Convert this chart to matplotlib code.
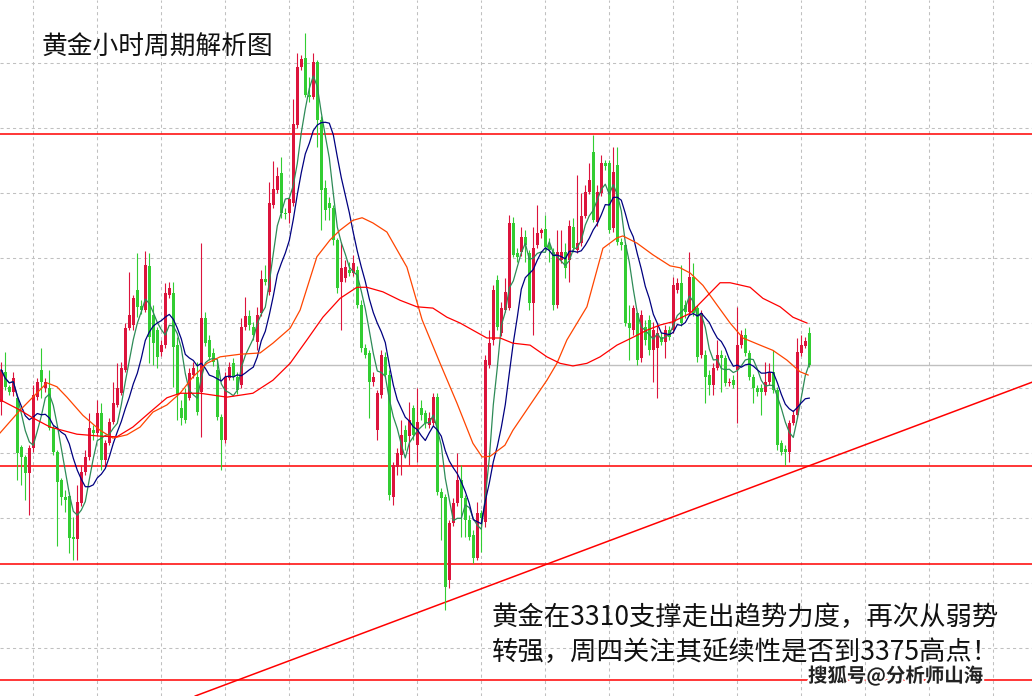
import matplotlib
matplotlib.use("Agg")
import matplotlib.pyplot as plt
import matplotlib.patheffects as pe
import numpy as np
import pandas as pd

plt.rcParams['font.family'] = ['Noto Sans CJK SC', 'DejaVu Sans']

# hourly OHLC (bar index 0..202)
opens = [
    3337.8, 3342.5, 3340.2, 3339.4, 3338.5, 3330.9, 3329.4, 3326.9, 3330.8, 3338.6,
    3342.8, 3340.0, 3340.0, 3333.8, 3330.2, 3325.8, 3323.2, 3323.4, 3317.1, 3316.8,
    3322.3, 3327.1, 3329.4, 3333.5, 3333.1, 3336.2, 3328.9, 3331.5, 3334.8, 3337.4,
    3339.2, 3342.8, 3349.2, 3349.7, 3355.1, 3352.6, 3352.0, 3358.8, 3351.2, 3348.9,
    3345.5, 3346.6, 3354.3, 3354.6, 3346.6, 3336.9, 3339.2, 3338.5, 3342.0, 3341.7,
    3339.4, 3350.8, 3347.4, 3345.4, 3342.8, 3335.5, 3332.0, 3341.5, 3343.8, 3341.7,
    3340.5, 3349.4, 3351.1, 3349.4, 3347.1, 3351.5, 3356.8, 3354.8, 3368.2, 3370.5,
    3373.1, 3366.9, 3366.9, 3368.5, 3380.5, 3389.4, 3390.8, 3385.1, 3384.8, 3390.2,
    3381.2, 3370.8, 3368.5, 3367.7, 3362.8, 3356.3, 3356.9, 3358.2, 3357.7, 3358.2,
    3352.8, 3346.2, 3345.4, 3340.9, 3333.5, 3338.9, 3344.8, 3342.0, 3323.2, 3327.8,
    3329.7, 3333.5, 3332.6, 3336.9, 3331.2, 3336.9, 3336.2, 3334.3, 3334.6, 3338.6,
    3324.0, 3323.2, 3310.5, 3319.2, 3322.3, 3325.8, 3323.1, 3319.7, 3317.4, 3313.8,
    3320.8, 3319.4, 3343.5, 3347.4, 3356.6, 3348.5, 3352.0, 3352.3, 3365.4, 3360.8,
    3360.9, 3363.2, 3360.8, 3353.1, 3362.0, 3363.8, 3364.5, 3362.0, 3360.9, 3352.8,
    3359.7, 3360.9, 3359.7, 3364.8, 3361.2, 3362.3, 3366.5, 3370.2, 3376.3, 3365.5,
    3370.0, 3374.6, 3374.6, 3364.6, 3374.3, 3362.5, 3362.0, 3350.0, 3348.9, 3351.5,
    3344.6, 3349.4, 3350.5, 3345.8, 3346.2, 3347.8, 3347.1, 3348.9, 3348.9, 3355.1,
    3356.2, 3352.8, 3351.7, 3357.1, 3352.3, 3345.1, 3345.1, 3342.0, 3340.5, 3343.1,
    3345.1, 3344.6, 3340.8, 3341.2, 3342.8, 3346.6, 3348.2, 3345.4, 3341.7, 3340.0,
    3340.0, 3339.4, 3340.9, 3342.5, 3339.7, 3331.5, 3330.6, 3330.2, 3334.6, 3335.8,
    3345.4, 3346.5, 3348.5,
]
highs = [
    3344.0, 3345.5, 3340.5, 3342.5, 3338.9, 3331.2, 3329.7, 3331.2, 3340.5, 3341.5,
    3346.2, 3341.5, 3342.8, 3334.3, 3330.5, 3326.2, 3324.3, 3324.0, 3320.2, 3325.1,
    3328.2, 3330.5, 3336.2, 3334.3, 3338.2, 3337.7, 3332.0, 3335.4, 3340.9, 3343.8,
    3344.0, 3350.0, 3357.8, 3354.3, 3360.8, 3353.5, 3361.1, 3360.8, 3352.8, 3349.4,
    3347.4, 3356.2, 3356.3, 3356.3, 3347.8, 3338.2, 3340.0, 3343.1, 3344.0, 3344.0,
    3362.3, 3351.7, 3348.2, 3346.2, 3344.3, 3336.0, 3342.5, 3344.0, 3344.6, 3342.5,
    3350.8, 3354.0, 3352.0, 3350.2, 3352.5, 3358.2, 3358.9, 3371.7, 3374.9, 3374.0,
    3375.5, 3367.7, 3369.4, 3384.5, 3391.5, 3391.2, 3394.6, 3387.8, 3391.5, 3390.5,
    3381.8, 3372.0, 3369.4, 3368.2, 3363.1, 3362.5, 3359.7, 3359.4, 3360.5, 3358.8,
    3353.5, 3346.8, 3345.8, 3342.5, 3339.7, 3345.8, 3345.5, 3342.8, 3328.6, 3330.8,
    3335.1, 3334.3, 3337.8, 3337.4, 3340.0, 3338.2, 3336.6, 3336.3, 3339.2, 3339.2,
    3324.6, 3323.7, 3319.7, 3323.1, 3330.0, 3328.2, 3323.5, 3320.5, 3318.2, 3322.5,
    3321.2, 3345.1, 3348.9, 3355.8, 3357.4, 3353.2, 3356.9, 3366.6, 3366.3, 3361.5,
    3364.8, 3364.3, 3361.2, 3364.8, 3368.2, 3364.6, 3366.6, 3363.1, 3361.5, 3364.3,
    3364.3, 3362.3, 3365.8, 3366.2, 3372.8, 3370.0, 3371.2, 3374.6, 3378.9, 3371.2,
    3375.8, 3375.1, 3375.1, 3377.1, 3377.1, 3363.1, 3362.5, 3352.8, 3352.8, 3351.7,
    3352.0, 3350.5, 3351.2, 3350.2, 3349.7, 3348.6, 3349.7, 3349.5, 3357.1, 3356.9,
    3358.9, 3353.5, 3360.9, 3359.2, 3352.8, 3352.0, 3345.8, 3342.8, 3343.8, 3347.4,
    3345.8, 3345.1, 3341.5, 3342.0, 3352.5, 3348.9, 3349.2, 3345.8, 3342.2, 3340.5,
    3340.6, 3344.0, 3343.8, 3345.8, 3340.2, 3332.0, 3331.2, 3335.1, 3336.6, 3347.7,
    3348.2, 3347.8, 3349.4,
]
lows = [
    3335.8, 3339.7, 3338.9, 3338.8, 3325.8, 3325.1, 3322.8, 3320.5, 3330.2, 3338.2,
    3338.5, 3339.4, 3333.5, 3329.7, 3315.7, 3322.0, 3320.9, 3314.6, 3313.5, 3313.5,
    3321.8, 3326.6, 3328.9, 3332.0, 3332.6, 3327.4, 3328.0, 3331.2, 3334.5, 3337.1,
    3338.9, 3342.5, 3348.9, 3348.9, 3350.9, 3351.4, 3351.7, 3343.8, 3343.5, 3343.1,
    3344.9, 3346.2, 3353.8, 3340.2, 3335.1, 3334.3, 3334.6, 3338.2, 3341.5, 3335.8,
    3332.5, 3346.5, 3344.3, 3343.4, 3335.1, 3327.4, 3331.5, 3341.2, 3341.2, 3339.1,
    3340.0, 3348.9, 3348.9, 3347.4, 3345.8, 3351.1, 3355.8, 3354.3, 3367.7, 3370.0,
    3366.2, 3366.0, 3365.4, 3368.0, 3380.0, 3388.9, 3384.8, 3384.0, 3384.5, 3377.1,
    3364.3, 3365.8, 3365.8, 3362.0, 3354.6, 3348.9, 3356.3, 3357.2, 3357.2, 3352.3,
    3345.5, 3344.6, 3335.4, 3340.3, 3332.0, 3338.5, 3341.5, 3322.8, 3322.0, 3326.6,
    3326.6, 3330.5, 3328.2, 3332.0, 3328.6, 3335.1, 3333.8, 3333.8, 3334.2, 3323.5,
    3316.6, 3305.8, 3309.2, 3318.8, 3321.8, 3317.1, 3317.1, 3316.6, 3313.1, 3313.5,
    3314.8, 3318.6, 3343.1, 3346.6, 3348.9, 3348.0, 3351.7, 3352.0, 3360.2, 3359.4,
    3360.3, 3359.4, 3352.0, 3348.2, 3361.5, 3363.1, 3361.2, 3359.4, 3352.0, 3352.3,
    3359.2, 3356.9, 3356.3, 3360.9, 3360.8, 3361.8, 3366.2, 3369.8, 3365.5, 3364.9,
    3369.5, 3373.5, 3363.8, 3364.0, 3362.0, 3361.2, 3349.5, 3344.3, 3348.2, 3343.5,
    3344.0, 3346.6, 3345.1, 3340.9, 3338.5, 3346.6, 3344.6, 3347.4, 3348.5, 3354.6,
    3349.5, 3350.8, 3351.2, 3351.1, 3344.0, 3344.6, 3337.7, 3338.9, 3338.9, 3342.8,
    3339.4, 3340.3, 3340.3, 3340.0, 3334.6, 3346.2, 3344.9, 3341.2, 3337.7, 3338.8,
    3335.8, 3338.9, 3340.5, 3339.2, 3330.5, 3329.7, 3328.2, 3328.6, 3334.3, 3335.4,
    3344.9, 3346.2, 3343.2,
]
closes = [
    3342.8, 3340.2, 3339.4, 3341.5, 3330.0, 3329.4, 3326.9, 3330.8, 3338.9, 3340.9,
    3340.9, 3340.9, 3333.8, 3330.2, 3325.5, 3323.2, 3322.8, 3316.9, 3316.8, 3322.5,
    3327.1, 3329.4, 3333.8, 3333.1, 3336.2, 3328.9, 3331.5, 3334.8, 3337.7, 3340.0,
    3343.1, 3349.2, 3351.2, 3353.8, 3352.5, 3352.0, 3358.9, 3347.8, 3346.9, 3344.8,
    3346.6, 3354.6, 3355.4, 3346.3, 3338.9, 3335.4, 3335.1, 3342.3, 3343.1, 3336.3,
    3350.8, 3346.9, 3344.8, 3344.0, 3335.5, 3332.0, 3341.7, 3343.2, 3341.7, 3339.7,
    3349.4, 3351.1, 3349.7, 3348.2, 3351.2, 3356.8, 3356.3, 3368.5, 3370.6, 3372.6,
    3366.9, 3366.8, 3369.1, 3380.6, 3389.4, 3390.6, 3385.1, 3384.8, 3390.2, 3381.2,
    3370.5, 3367.4, 3367.7, 3362.8, 3355.4, 3358.5, 3358.6, 3357.7, 3359.2, 3352.8,
    3346.2, 3345.1, 3340.9, 3341.7, 3339.2, 3345.1, 3342.0, 3323.5, 3328.2, 3330.0,
    3332.8, 3331.7, 3335.1, 3332.8, 3334.8, 3335.8, 3334.6, 3335.4, 3338.6, 3324.0,
    3323.1, 3309.4, 3319.2, 3322.3, 3325.8, 3323.1, 3319.7, 3317.1, 3313.8, 3320.8,
    3320.0, 3344.3, 3346.9, 3355.1, 3349.4, 3352.3, 3354.8, 3365.4, 3360.5, 3360.2,
    3363.2, 3362.0, 3353.1, 3361.5, 3363.8, 3364.3, 3361.7, 3361.2, 3352.8, 3360.9,
    3360.9, 3358.5, 3364.9, 3361.5, 3362.3, 3366.5, 3370.2, 3372.0, 3365.8, 3370.2,
    3374.6, 3374.2, 3364.3, 3373.2, 3362.5, 3362.0, 3350.0, 3349.2, 3352.3, 3344.3,
    3351.2, 3347.4, 3345.8, 3348.9, 3348.5, 3347.1, 3348.9, 3347.8, 3355.8, 3356.2,
    3350.0, 3351.7, 3357.1, 3351.5, 3344.8, 3351.5, 3341.7, 3340.5, 3343.1, 3345.1,
    3344.6, 3340.8, 3340.9, 3340.5, 3346.6, 3348.2, 3345.4, 3341.7, 3340.0, 3339.4,
    3339.4, 3340.9, 3342.5, 3339.7, 3331.2, 3330.2, 3330.2, 3334.6, 3335.8, 3345.5,
    3346.6, 3347.2, 3343.5,
]

# slow moving averages, read at sample bars
ma_orange_bar = [
    -0.3, 4.7, 7.9, 11.4, 13.9, 16.4, 20.4, 24.7, 27.9, 31.4, 34.7, 37.9, 41.4, 44.7,
    47.9, 51.4, 54.7, 59.7, 64.7, 67.9, 72.2, 74.7, 78.9, 82.2, 84.7, 87.9, 90.2, 92.9,
    96.4, 101.4, 105.2, 109.7, 113.9, 117.9, 120.2, 122.2, 125.9, 127.9, 132.2, 136.4,
    138.9, 141.4, 146.4, 150.4, 153.9, 155.4, 158.9, 162.9, 167.2, 169.7, 172.2, 175.4,
    178.9, 182.2, 185.4, 189.7, 192.9, 196.4, 199.7, 201.7,
]
ma_orange = [
    3333.1, 3336.6, 3338.6, 3340.8, 3340.2, 3338.6, 3335.8, 3333.5, 3332.3, 3332.8,
    3334.0, 3336.3, 3337.4, 3339.2, 3341.7, 3343.8, 3344.8, 3345.2, 3345.4, 3346.9,
    3349.2, 3352.0, 3360.2, 3362.8, 3364.3, 3365.8, 3366.2, 3365.4, 3364.0, 3358.6,
    3350.5, 3343.8, 3337.7, 3331.5, 3329.4, 3329.5, 3331.2, 3333.5, 3337.4, 3341.2,
    3343.8, 3347.4, 3352.5, 3361.5, 3363.1, 3363.4, 3362.3, 3360.5, 3358.8, 3358.5,
    3357.7, 3355.8, 3352.8, 3350.0, 3347.7, 3346.6, 3345.8, 3344.3, 3342.5, 3342.0,
]
ma_red_bar = [
    -0.3, 4.7, 7.9, 12.2, 18.9, 24.7, 28.9, 32.9, 37.2, 41.4, 44.7, 49.7, 56.4, 59.7,
    62.9, 67.9, 72.2, 76.4, 80.4, 84.7, 88.9, 91.4, 95.4, 99.7, 103.9, 107.9, 111.4,
    114.7, 117.9, 121.4, 124.7, 127.9, 132.2, 136.4, 139.7, 142.9, 146.4, 149.7, 153.9,
    157.9, 161.4, 164.7, 167.9, 172.2, 175.4, 179.7, 182.2, 187.2, 190.4, 194.7, 197.9,
    201.4,
]
ma_red = [
    3338.2, 3336.6, 3335.4, 3334.0, 3332.9, 3332.6, 3332.5, 3334.0, 3336.3, 3338.5,
    3339.2, 3339.2, 3338.6, 3338.9, 3339.2, 3341.2, 3343.8, 3347.4, 3350.9, 3353.8,
    3355.5, 3355.5, 3354.8, 3353.5, 3352.5, 3352.3, 3350.9, 3350.0, 3348.9, 3347.7,
    3347.7, 3346.9, 3346.6, 3344.8, 3343.8, 3343.4, 3343.8, 3344.8, 3346.6, 3347.8,
    3348.9, 3349.7, 3350.2, 3351.5, 3353.5, 3356.2, 3356.2, 3355.5, 3353.8, 3352.5,
    3350.9, 3350.0,
]

levels = [3379.1, 3328.0, 3312.9, 3295.1]
trend_bar = [48.4, 257.7]
trend_price = [3292.6, 3340.9]

title = "黄金小时周期解析图"
note_lines = ["黄金在3310支撑走出趋势力度，再次从弱势", "转强，周四关注其延续性是否到3375高点！"]
watermark = "搜狐号@分析师山海"

UP = "#dc143c"
DOWN = "#32cd32"
GRID = "#c0c0c0"


def draw():
    fig = plt.figure(figsize=(10.32, 6.96), dpi=100)
    ax = fig.add_axes([0, 0, 1, 1])
    ax.set_xlim(-0.325, 257.675)
    ax.set_ylim(3292.62, 3399.7)
    ax.axis("off")

    # dashed grid, one vertical every 16 bars, one horizontal every 10
    for b in range(8, 258, 16):
        ax.axvline(b, color=GRID, lw=0.75, ls=(0, (3, 3)), zorder=0)
    for p in range(3300, 3400, 10):
        ax.axhline(p, color=GRID, lw=0.75, ls=(0, (3, 3)), zorder=0)

    o = np.array(opens)
    h = np.array(highs)
    l = np.array(lows)
    c = np.array(closes)
    x = np.arange(len(c))
    cols = np.where(c >= o, UP, DOWN)

    ax.axhline(c[-1], color=GRID, lw=1.0, zorder=1)
    for lv in levels:
        ax.axhline(lv, color="red", lw=1.1, zorder=2)
    ax.axline((trend_bar[0], trend_price[0]), (trend_bar[1], trend_price[1]),
              color="red", lw=1.1, zorder=2)

    ax.vlines(x, l, h, colors=cols, lw=0.8, zorder=3)
    body = np.maximum(np.abs(c - o), 0.15)
    ax.bar(x, body, bottom=np.minimum(o, c), width=0.75, color=cols, lw=0, zorder=3)

    s = pd.Series(c)
    ax.plot(x, s.rolling(5, min_periods=1).mean(), color="#2e8b57", lw=0.9, zorder=4)
    ax.plot(x, s.rolling(10, min_periods=1).mean(), color="#000080", lw=0.9, zorder=4)
    ax.plot(ma_orange_bar, ma_orange, color="#ff4500", lw=0.9, zorder=4)
    ax.plot(ma_red_bar, ma_red, color="#ff0000", lw=0.9, zorder=4)

    W, H = 1032, 696
    fig.text(42 / W, 1 - 48 / H, title, fontsize=18.5, color="#111111", va="center", ha="left")
    for k, line in enumerate(note_lines):
        fig.text(492 / W, 1 - (617 + 35 * k) / H, line, fontsize=19, color="#111111",
                 va="center", ha="left")
    fig.text(808 / W, 1 - 676 / H, watermark, fontsize=14, fontweight="bold", color="#222222",
             va="center", ha="left",
             path_effects=[pe.withStroke(linewidth=3, foreground="white")])

    fig.savefig("out.png", dpi=100)


if __name__ == "__main__":
    draw()
